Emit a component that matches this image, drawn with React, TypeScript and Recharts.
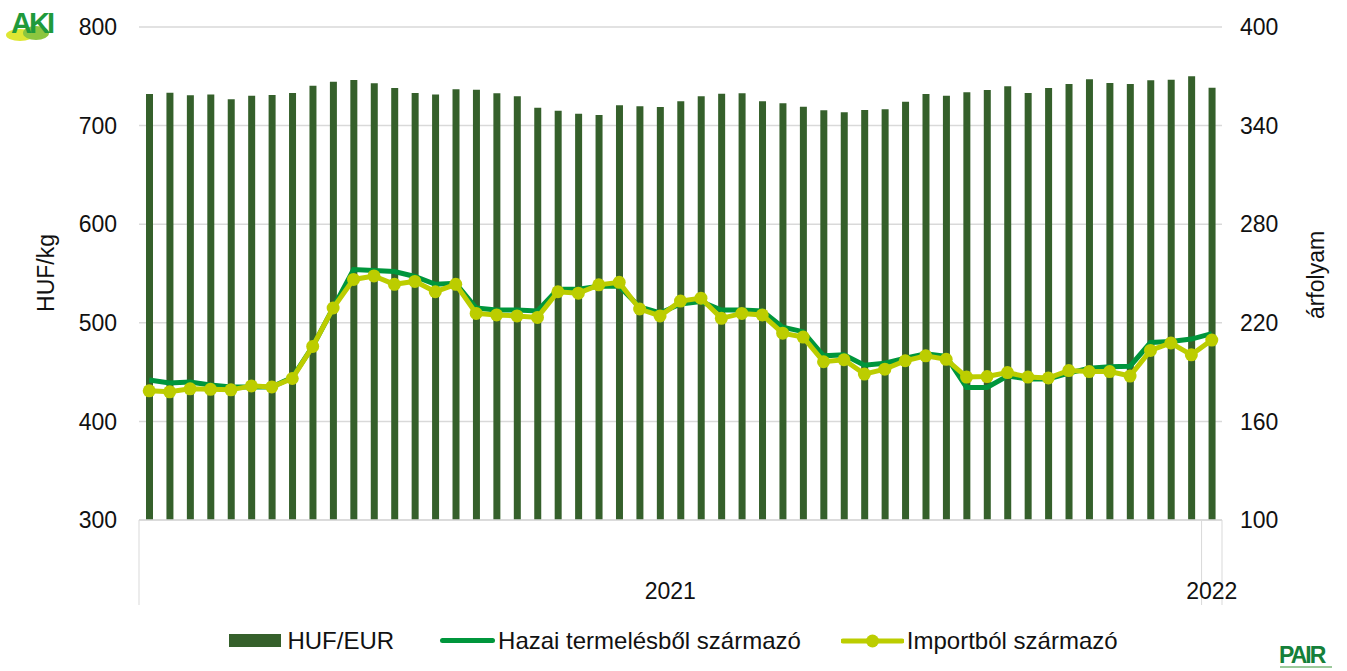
import {
  ComposedChart,
  Bar,
  Line,
  XAxis,
  YAxis,
  CartesianGrid,
  Legend,
} from 'recharts'

// 2021 weeks 1-52, then 2022 week 1
const years = [...Array(52).fill('2021'), '2022']

const hufEur = [
  359.2, 360.0, 358.4, 359.0, 356.0, 358.2, 358.6, 359.8, 364.3, 366.7, 367.7, 365.7, 362.9,
  359.8, 359.0, 362.1, 361.8, 359.7, 357.8, 350.9, 349.1, 347.2, 346.4, 352.4, 351.7, 351.3,
  354.8, 357.8, 359.4, 359.7, 354.8, 353.6, 351.5, 349.3, 348.1, 349.5, 349.9, 354.5, 359.2,
  358.2, 360.3, 361.7, 363.9, 359.8, 362.9, 365.3, 368.2, 365.9, 365.3, 367.6, 367.9, 370.0,
  363.1,
]

const hazai = [
  442, 439, 440, 437, 435, 435, 435, 444.5, 476, 515, 554, 553, 552, 547, 539, 540, 515,
  513, 513, 512, 534, 534, 537, 537, 516, 510, 519, 521.5, 513, 513, 512, 495.5, 491, 466.5,
  467.5, 457, 459, 464, 468.5, 466, 434.5, 434.5, 446, 443, 443, 449, 454, 455.5, 456, 480,
  481, 483.5, 489,
]

const importbol = [
  431, 430, 433, 432.5, 432, 436, 435, 443.5, 476, 515, 544, 547.5, 539, 542, 531.5, 539,
  509.5, 508, 507, 505.5, 531.5, 530, 538.5, 541, 514, 507, 522, 525, 504.5, 509.5, 508,
  489.5, 485.5, 460.5, 462.5, 448, 453, 461.5, 466.5, 463, 445, 445.5, 449.5, 445, 444,
  451.5, 450.5, 450.5, 446, 472, 479.5, 467.5, 482.5,
]

const leftTicks = [300, 400, 500, 600, 700, 800]
const rightTicks = [100, 160, 220, 280, 340, 400]

const data = years.map((year, i) => ({
  key: `${year}-${i}`,
  year,
  hufEur: hufEur[i],
  hazai: hazai[i],
  importbol: importbol[i],
}))

const W = 1347
const H = 671
const PLOT_LEFT = 139
const PLOT_RIGHT = 1222
const BAND = (PLOT_RIGHT - PLOT_LEFT) / data.length
const FONT = '"Liberation Sans", Arial, sans-serif'

const BAR_COLOR = '#35602b'
const HAZAI_COLOR = '#00963c'
const IMPORT_COLOR = '#bccd00'
const GRID = '#d9d9d9'

function YearTick(props: any) {
  const { x, y, index } = props
  const year = data[index].year
  const first = years.indexOf(year)
  const last = years.lastIndexOf(year)
  const mid = (first + last) / 2
  return (
    <g>
      {index === first && (
        <line x1={x - BAND / 2} x2={x - BAND / 2} y1={y} y2={y + 85} stroke={GRID} />
      )}
      {index === data.length - 1 && (
        <line x1={x + BAND / 2} x2={x + BAND / 2} y1={y} y2={y + 85} stroke={GRID} />
      )}
      {Math.floor(mid) === index && (
        <text
          x={x + (mid - index) * BAND}
          y={y + 79}
          textAnchor="middle"
          fontSize={23}
          fontFamily={FONT}
          fill="#111"
        >
          {year}
        </text>
      )}
    </g>
  )
}

function LegendContent() {
  const item = { display: 'flex', alignItems: 'center' }
  return (
    <div
      style={{
        display: 'flex',
        justifyContent: 'center',
        alignItems: 'center',
        height: 56,
        paddingTop: 15,
        boxSizing: 'border-box',
        fontFamily: FONT,
        fontSize: 24,
        color: '#111',
      }}
    >
      <div style={item}>
        <span style={{ width: 52, height: 13, background: BAR_COLOR, marginRight: 6 }} />
        HUF/EUR
      </div>
      <div style={{ ...item, marginLeft: 46 }}>
        <span
          style={{ width: 55, height: 5, borderRadius: 3, background: HAZAI_COLOR, marginRight: 3 }}
        />
        Hazai termelésből származó
      </div>
      <div style={{ ...item, marginLeft: 40 }}>
        <svg width={63} height={14} style={{ marginRight: 3 }}>
          <line x1={2} x2={61} y1={7} y2={7} stroke={IMPORT_COLOR} strokeWidth={5} strokeLinecap="round" />
          <circle cx={31.5} cy={7} r={6.5} fill={IMPORT_COLOR} />
        </svg>
        Importból származó
      </div>
    </div>
  )
}

export default function App() {
  return (
    <div style={{ position: 'absolute', left: 0, top: 0, width: W, height: H, background: '#fff' }}>
      <svg width={60} height={42} style={{ position: 'absolute', left: 2, top: 2 }}>
        <ellipse cx={18} cy={33} rx={14} ry={6} fill="#d4e000" opacity={0.8} />
        <ellipse cx={34} cy={31} rx={13} ry={7} fill="#8cc63f" />
        <text x={9} y={31} fontSize={29} fontWeight="bold" fontFamily={FONT} fill="#1f9a3c" letterSpacing={-3}>
          AKI
        </text>
      </svg>
      <svg width={62} height={28} style={{ position: 'absolute', left: 1277, top: 643 }}>
        <text x={2} y={20} fontSize={23} fontWeight="bold" fontFamily={FONT} fill="#15803a" letterSpacing={-2}>
          PAIR
        </text>
        <rect x={3} y={23} width={52} height={2} fill="#9bc99a" />
      </svg>
      <ComposedChart
        width={W}
        height={H}
        data={data}
        margin={{ top: 27, right: 0, bottom: 10, left: 0 }}
        barCategoryGap={0}
      >
        <CartesianGrid yAxisId="l" vertical={false} stroke={GRID} strokeWidth={1.5} />
        <XAxis
          dataKey="key"
          height={85}
          interval={0}
          tickLine={false}
          axisLine={{ stroke: GRID, strokeWidth: 1.5 }}
          tickSize={0}
          tickMargin={0}
          tick={(p: any) => <YearTick {...p} />}
        />
        <YAxis
          yAxisId="l"
          width={PLOT_LEFT}
          domain={[300, 800]}
          ticks={leftTicks}
          axisLine={false}
          tickLine={false}
          tickSize={0}
          tickMargin={22}
          tick={{ fontSize: 23, fill: '#111', fontFamily: FONT }}
          label={{
            content: () => (
              <text
                x={46}
                y={273}
                transform="rotate(-90 46 273)"
                textAnchor="middle"
                dominantBaseline="central"
                fontSize={23}
                fontFamily={FONT}
                fill="#111"
              >
                HUF/kg
              </text>
            ),
          }}
        />
        <YAxis
          yAxisId="r"
          orientation="right"
          width={W - PLOT_RIGHT}
          domain={[100, 400]}
          ticks={rightTicks}
          axisLine={false}
          tickLine={false}
          tickSize={0}
          tickMargin={18}
          tick={{ fontSize: 23, fill: '#111', fontFamily: FONT }}
          label={{
            content: () => (
              <text
                x={1316}
                y={275}
                transform="rotate(-90 1316 275)"
                textAnchor="middle"
                dominantBaseline="central"
                fontSize={23}
                fontFamily={FONT}
                fill="#111"
              >
                árfolyam
              </text>
            ),
          }}
        />
        <Legend verticalAlign="bottom" height={56} content={() => <LegendContent />} />
        <Bar
          yAxisId="r"
          dataKey="hufEur"
          name="HUF/EUR"
          fill={BAR_COLOR}
          barSize={7}
          isAnimationActive={false}
        />
        <Line
          yAxisId="l"
          dataKey="hazai"
          name="Hazai termelésből származó"
          type="linear"
          stroke={HAZAI_COLOR}
          strokeWidth={5}
          dot={false}
          activeDot={false}
          isAnimationActive={false}
        />
        <Line
          yAxisId="l"
          dataKey="importbol"
          name="Importból származó"
          type="linear"
          stroke={IMPORT_COLOR}
          strokeWidth={5}
          dot={{ r: 6.5, fill: IMPORT_COLOR, stroke: 'none' }}
          activeDot={false}
          isAnimationActive={false}
        />
      </ComposedChart>
    </div>
  )
}
